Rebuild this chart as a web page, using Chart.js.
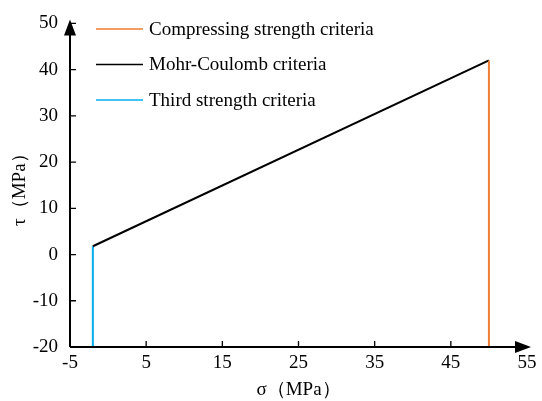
<!DOCTYPE html>
<html><head><meta charset="utf-8">
<script src="https://cdn.jsdelivr.net/npm/chart.js@4/dist/chart.umd.min.js"></script>
<style>html,body{margin:0;padding:0;background:#fff}#wrap{width:542px;height:401px}</style>
</head><body><div id="wrap"><canvas id="c" width="542" height="401"></canvas></div>
<script>
const seriesLabels = ['Compressing strength criteria', 'Mohr-Coulomb criteria', 'Third strength criteria'];
const seriesColors = ['#ED7D31', '#000000', '#00B0F0'];
const compX = [50, 50];
const compY = [42, -20];
const mohrX = [-2, 50];
const mohrY = [1.8, 42];
const thirdX = [-2, -2];
const thirdY = [-20, 1.8];
const xTicks = [-5, 5, 15, 25, 35, 45, 55];
const yTicks = [-20, -10, 0, 10, 20, 30, 40, 50];

const FONT = '"Liberation Serif", "Times New Roman", serif';
const pts = (xs, ys) => xs.map((x, i) => ({x, y: ys[i]}));

const axisDeco = {
  id: 'axisDeco',
  afterDraw(chart) {
    const ctx = chart.ctx, xs = chart.scales.x, ys = chart.scales.y;
    const x0 = xs.getPixelForValue(-5), y0 = ys.getPixelForValue(-20);
    const xEnd = xs.getPixelForValue(55), yTop = ys.getPixelForValue(50);
    ctx.save();
    ctx.strokeStyle = '#000'; ctx.fillStyle = '#000'; ctx.lineWidth = 2;
    ctx.beginPath();
    ctx.moveTo(x0, y0); ctx.lineTo(xEnd - 8, y0);
    ctx.moveTo(x0, y0); ctx.lineTo(x0, yTop + 8);
    ctx.stroke();
    ctx.lineWidth = 1.3;
    ctx.beginPath();
    xTicks.forEach(v => { if (v > -5 && v < 55) { const p = xs.getPixelForValue(v); ctx.moveTo(p, y0); ctx.lineTo(p, y0 - 6); } });
    yTicks.forEach(v => { if (v > -20) { const p = ys.getPixelForValue(v); ctx.moveTo(x0, p); ctx.lineTo(x0 + 6, p); } });
    ctx.stroke();
    ctx.beginPath();
    ctx.moveTo(xEnd + 4, y0); ctx.lineTo(xEnd - 12, y0 - 6); ctx.lineTo(xEnd - 12, y0 + 6); ctx.closePath(); ctx.fill();
    ctx.beginPath();
    ctx.moveTo(x0, yTop - 4); ctx.lineTo(x0 - 6, yTop + 12); ctx.lineTo(x0 + 6, yTop + 12); ctx.closePath(); ctx.fill();
    ctx.font = '19px ' + FONT; ctx.textBaseline = 'middle'; ctx.textAlign = 'left';
    chart.data.datasets.forEach((ds, i) => {
      const yy = 29 + i * 35.5;
      ctx.strokeStyle = ds.borderColor; ctx.lineWidth = 1.5;
      ctx.beginPath(); ctx.moveTo(96, yy); ctx.lineTo(143, yy); ctx.stroke();
      ctx.fillStyle = '#000'; ctx.fillText(ds.label, 149, yy + 1);
    });
    ctx.restore();
  }
};

new Chart(document.getElementById('c'), {
  type: 'scatter',
  data: {
    datasets: [
      {label: seriesLabels[0], data: pts(compX, compY), borderColor: seriesColors[0], showLine: true, pointRadius: 0, borderWidth: 2},
      {label: seriesLabels[1], data: pts(mohrX, mohrY), borderColor: seriesColors[1], showLine: true, pointRadius: 0, borderWidth: 2},
      {label: seriesLabels[2], data: pts(thirdX, thirdY), borderColor: seriesColors[2], showLine: true, pointRadius: 0, borderWidth: 2}
    ]
  },
  options: {
    responsive: false, animation: false,
    layout: {padding: {top: 17, right: 15, left: 0, bottom: 0}},
    plugins: {legend: {display: false}, tooltip: {enabled: false}},
    scales: {
      x: {
        type: 'linear', min: -5, max: 55,
        afterBuildTicks: s => { s.ticks = xTicks.map(v => ({value: v})); },
        afterFit: s => { s.height = 54; },
        grid: {display: false, drawTicks: false},
        border: {display: false},
        ticks: {color: '#000', font: {family: FONT, size: 19}, padding: 5, maxRotation: 0},
        title: {display: true, text: 'σ（MPa）', color: '#000', font: {family: FONT, size: 19}, padding: {top: 4, bottom: 0}}
      },
      y: {
        type: 'linear', min: -20, max: 50,
        afterBuildTicks: s => { s.ticks = yTicks.map(v => ({value: v})); },
        afterFit: s => { s.width = 70; },
        grid: {display: false, drawTicks: false},
        border: {display: false},
        ticks: {color: '#000', font: {family: FONT, size: 19}, padding: 12},
        title: {display: true, text: 'τ（MPa）', color: '#000', font: {family: FONT, size: 19}, padding: {top: 9, bottom: 4}}
      }
    }
  },
  plugins: [axisDeco]
});
</script></body></html>
